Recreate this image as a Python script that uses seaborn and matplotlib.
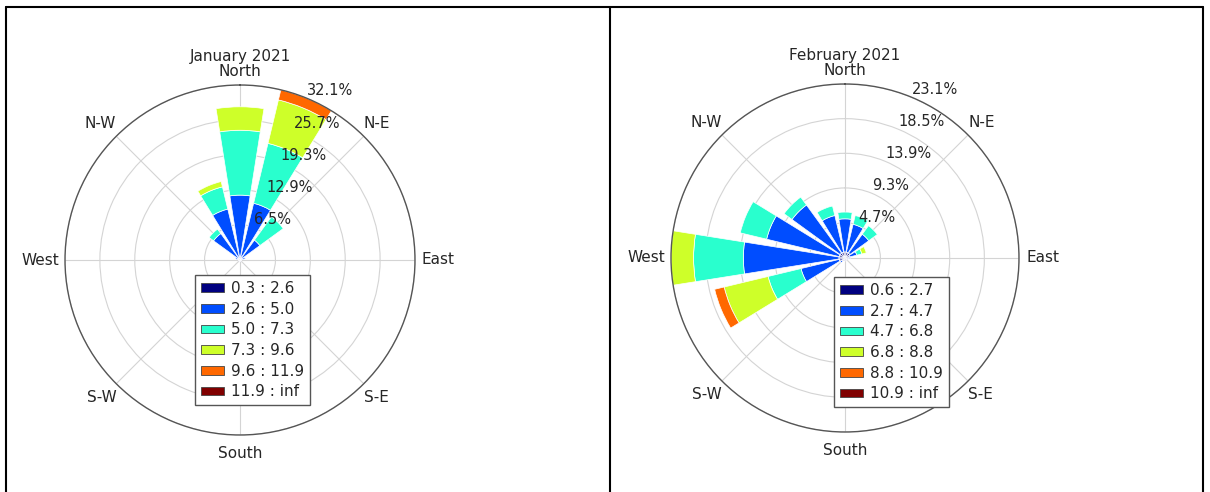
import matplotlib
matplotlib.use("Agg")
import matplotlib.pyplot as plt
import numpy as np
import seaborn as sns
from matplotlib.lines import Line2D
from matplotlib.patches import Patch

# 16 sectors, clockwise from North
directions = ["N", "NNE", "NE", "ENE", "E", "ESE", "SE", "SSE",
              "S", "SSW", "SW", "WSW", "W", "WNW", "NW", "NNW"]
compass_labels = ["North", "N-E", "East", "S-E", "South", "S-W", "West", "N-W"]

# January 2021 - frequency (%) per speed bin and sector
jan_bins = ["0.3 : 2.6", "2.6 : 5.0", "5.0 : 7.3", "7.3 : 9.6", "9.6 : 11.9", "11.9 : inf"]
jan_b1 = [0.6, 0.6, 0.5, 0.4, 0.3, 0.3, 0.3, 0.3, 0.3, 0.3, 0.3, 0.3, 0.3, 0.4, 0.5, 0.6]
jan_b2 = [11.3, 10.1, 4.0, 0.6, 0, 0, 0, 0, 0, 0, 0, 0, 0, 0.5, 5.5, 9.0]
jan_b3 = [11.9, 11.3, 5.3, 0, 0, 0, 0, 0, 0, 0, 0, 0, 0, 0, 1.0, 4.2]
jan_b4 = [4.3, 8.2, 0, 0, 0, 0, 0, 0, 0, 0, 0, 0, 0, 0, 0, 1.0]
jan_b5 = [0, 1.9, 0, 0, 0, 0, 0, 0, 0, 0, 0, 0, 0, 0, 0, 0]
jan_b6 = [0] * 16
jan_rticks = [6.5, 12.9, 19.3, 25.7, 32.1]
jan_rlabels = ["6.5%", "12.9%", "19.3%", "25.7%", "32.1%"]

# February 2021
feb_bins = ["0.6 : 2.7", "2.7 : 4.7", "4.7 : 6.8", "6.8 : 8.8", "8.8 : 10.9", "10.9 : inf"]
feb_b1 = [0.8, 0.8, 0.8, 0.6, 0.5, 0.4, 0.4, 0.4, 0.4, 0.4, 0.5, 0.8, 0.8, 0.8, 0.8, 0.8]
feb_b2 = [4.4, 3.8, 3.1, 1.0, 0.2, 0, 0, 0, 0, 0, 0.3, 5.2, 12.7, 9.9, 7.9, 5.0]
feb_b3 = [0.9, 1.2, 1.4, 0.7, 0, 0, 0, 0, 0, 0, 0, 4.5, 6.6, 3.6, 1.3, 1.3]
feb_b4 = [0, 0, 0, 0.6, 0, 0, 0, 0, 0, 0, 0, 6.0, 3.0, 0, 0, 0]
feb_b5 = [0, 0, 0, 0, 0, 0, 0, 0, 0, 0, 0, 1.3, 0, 0, 0, 0]
feb_b6 = [0] * 16
feb_rticks = [4.7, 9.3, 13.9, 18.5, 23.1]
feb_rlabels = ["4.7%", "9.3%", "13.9%", "18.5%", "23.1%"]

sns.set_style("white")
TXT = "#262626"

# where each compass label sits relative to the outer circle (pixels)
label_place = [((0, 6), "center", "bottom"), ((0, 5), "left", "bottom"),
               ((7, 0), "left", "center"), ((0, -6), "left", "top"),
               ((0, -11), "center", "top"), ((0, -6), "right", "top"),
               ((-6, 0), "right", "center"), ((0, 5), "right", "bottom")]


def draw_rose(ax, title, bins, rows, rticks, rlabels, leg_xy):
    theta = np.deg2rad(np.arange(0, 360, 22.5))
    width = 0.8 * 2 * np.pi / len(directions)
    colors = plt.get_cmap("jet")(np.linspace(0, 1, len(bins)))
    bottom = np.zeros(len(directions))
    for vals, c in zip(rows, colors):
        vals = np.asarray(vals, dtype=float)
        m = vals > 0
        if m.any():
            ax.bar(theta[m], vals[m], width=width, bottom=bottom[m], color=c,
                   edgecolor="white", linewidth=0.5, zorder=2)
        bottom += vals

    rmax = rticks[-1]
    ax.set_theta_zero_location("N")
    ax.set_theta_direction(-1)
    ax.set_thetagrids(np.arange(0, 360, 45), [""] * 8)
    ax.set_ylim(0, rmax)
    ax.set_yticks(rticks)
    ax.set_yticklabels([])
    ax.set_axisbelow(True)
    ax.grid(color="#d4d4d4", linewidth=0.8)
    ax.spines["polar"].set_color("#555555")
    ax.spines["polar"].set_linewidth(1.0)

    for ang, lab, (off, ha, va) in zip(np.arange(0, 360, 45), compass_labels, label_place):
        ax.annotate(lab, xy=(np.deg2rad(ang), rmax), xytext=off,
                    textcoords="offset pixels", ha=ha, va=va,
                    fontsize=11, color=TXT, annotation_clip=False)
    for r, lab in zip(rticks, rlabels):
        ax.text(np.deg2rad(22.5), r, lab, ha="left", va="bottom",
                fontsize=10.5, color=TXT, zorder=5)
    ax.set_title(title, y=1.07, pad=0, fontsize=11, color=TXT)

    handles = [Patch(facecolor=c, edgecolor="#444444", linewidth=0.6) for c in colors]
    ax.legend(handles, bins, loc="upper left", bbox_to_anchor=leg_xy,
              bbox_transform=ax.figure.transFigure, borderaxespad=0,
              fontsize=11, labelspacing=0.37, handlelength=1.5, handleheight=0.5,
              handletextpad=0.45, borderpad=0.4, fancybox=False, framealpha=1,
              edgecolor="#555555")


fig = plt.figure(figsize=(12.1, 4.92), dpi=100)
W, H = 1210, 492

ax1 = fig.add_axes([65 / W, 57 / H, 350 / W, 350 / H], projection="polar")
draw_rose(ax1, "January 2021", jan_bins,
          [jan_b1, jan_b2, jan_b3, jan_b4, jan_b5, jan_b6],
          jan_rticks, jan_rlabels, (195 / W, 1 - 275 / H))

ax2 = fig.add_axes([671 / W, 60 / H, 348 / W, 348 / H], projection="polar")
draw_rose(ax2, "February 2021", feb_bins,
          [feb_b1, feb_b2, feb_b3, feb_b4, feb_b5, feb_b6],
          feb_rticks, feb_rlabels, (834 / W, 1 - 277 / H))

# table cell borders around the two charts
lw = 1.5
fig.add_artist(Line2D([5.5 / W, 1203 / W], [1 - 6.5 / H] * 2, color="black", lw=lw))
for x in (5.5, 610, 1203):
    fig.add_artist(Line2D([x / W] * 2, [0, 1 - 6.5 / H], color="black", lw=lw))

fig.savefig("out.png", dpi=100)
